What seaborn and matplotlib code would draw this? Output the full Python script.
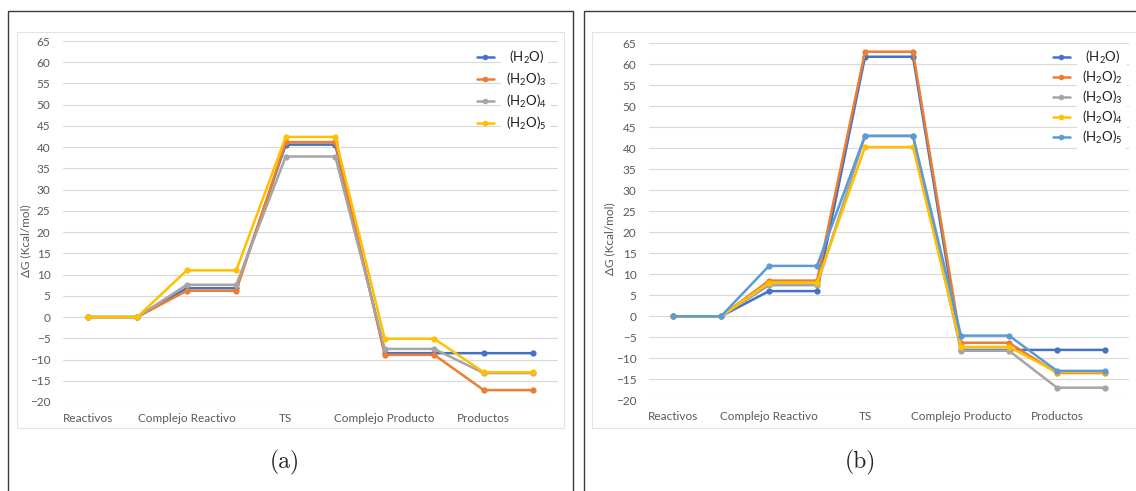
import matplotlib
matplotlib.use('Agg')
import matplotlib.pyplot as plt
from matplotlib.patches import Rectangle
from matplotlib.lines import Line2D
import seaborn as sns
import pandas as pd
import numpy as np

# Data
states = ['Reactivos', 'Complejo Reactivo', 'TS', 'Complejo Producto', 'Productos']

a_labels = [' (H$_2$O)', '(H$_2$O)$_3$', '(H$_2$O)$_4$', '(H$_2$O)$_5$']
a_h2o = [0, 0, 6.8, 6.8, 40.6, 40.6, -8.5, -8.5, -8.5, -8.5]
a_h2o3 = [0, 0, 6.2, 6.2, 41.2, 41.2, -8.9, -8.9, -17.2, -17.2]
a_h2o4 = [0, 0, 7.6, 7.6, 37.8, 37.8, -7.5, -7.5, -13.2, -13.2]
a_h2o5 = [0, 0, 11.0, 11.0, 42.4, 42.4, -5.1, -5.1, -13.0, -13.0]

b_labels = [' (H$_2$O)', '(H$_2$O)$_2$', '(H$_2$O)$_3$', '(H$_2$O)$_4$', '(H$_2$O)$_5$']
b_h2o = [0, 0, 6.0, 6.0, 61.8, 61.8, -8.0, -8.0, -8.0, -8.0]
b_h2o2 = [0, 0, 8.5, 8.5, 63.0, 63.0, -6.3, -6.3, -13.5, -13.5]
b_h2o3 = [0, 0, 7.4, 7.4, 42.9, 42.9, -8.2, -8.2, -17.0, -17.0]
b_h2o4 = [0, 0, 8.0, 8.0, 40.3, 40.3, -7.3, -7.3, -13.3, -13.3]
b_h2o5 = [0, 0, 12.0, 12.0, 43.0, 43.0, -4.6, -4.6, -13.0, -13.0]

a_colors = ['#4472C4', '#ED7D31', '#A5A5A5', '#FFC000']
b_colors = ['#4472C4', '#ED7D31', '#A5A5A5', '#FFC000', '#5B9BD5']

sns.set_style('white')
plt.rcParams['font.family'] = ['Lato', 'DejaVu Sans']
plt.rcParams['mathtext.default'] = 'regular'

W, H = 1136, 491
fig = plt.figure(figsize=(W / 100, H / 100), dpi=100)


def px_rect(x0, y0, x1, y1):
    # pixel box (top-left origin) -> figure fraction [l, b, w, h]
    return [x0 / W, 1 - y1 / H, (x1 - x0) / W, (y1 - y0) / H]


def draw_panel(rect, labels, series, colors, leg_xy, leg_space, ylab_xy, cap_xy, cap):
    ax = fig.add_axes(rect)
    rows = []
    for lab, vals in zip(labels, series):
        for i, v in enumerate(vals):
            rows.append({'pos': i, 'dG': v, 'serie': lab})
    df = pd.DataFrame(rows)
    sns.lineplot(data=df, x='pos', y='dG', hue='serie', hue_order=labels,
                 palette=colors, marker='o', markersize=4.5, markeredgewidth=0,
                 linewidth=1.8, legend=False, ax=ax)
    ax.set_xlim(-0.5, len(series[0]) - 0.5)
    ax.set_ylim(-20, 65)
    ax.set_yticks(np.arange(-20, 66, 5))
    ax.set_xticks(np.arange(0, len(series[0]), 2))
    ax.set_xticklabels(states)
    ax.tick_params(axis='both', length=0, labelsize=8.5, labelcolor='#595959')
    ax.tick_params(axis='y', pad=9)
    ax.tick_params(axis='x', pad=8)
    ax.grid(axis='y', color='#D9D9D9', linewidth=0.8)
    ax.set_axisbelow(True)
    for s in ax.spines.values():
        s.set_visible(False)
    ax.set_xlabel('')
    ax.set_ylabel('')
    fig.text(ylab_xy[0] / W, 1 - ylab_xy[1] / H, 'ΔG (Kcal/mol)', rotation=90,
             ha='center', va='center', fontsize=8.5, color='#595959')
    handles = [Line2D([], [], color=c, marker='o', markersize=4, markeredgewidth=0,
                      linewidth=1.8) for c in colors]
    leg = ax.legend(handles, labels, loc='upper left',
                    bbox_to_anchor=(leg_xy[0] / W, 1 - leg_xy[1] / H),
                    bbox_transform=fig.transFigure, frameon=False, fontsize=9.5,
                    handlelength=1.3, handletextpad=0.9, labelspacing=leg_space,
                    borderpad=0.2, borderaxespad=0)
    for t in leg.get_texts():
        t.set_color('#1a1a1a')
        t.set_bbox(dict(facecolor='white', edgecolor='none', pad=3))
    fig.text(cap_xy[0] / W, 1 - cap_xy[1] / H, cap, ha='center', va='center',
             fontsize=17, family='cmr10')
    return ax


# Panel frames (outer dark, inner light chart-area)
fig.patches.append(Rectangle((8 / W, -0.1), (573 - 8) / W, 1.1 - 11 / H, transform=fig.transFigure,
                             fill=False, edgecolor='#3a3a3a', linewidth=1.0))
fig.patches.append(Rectangle((584 / W, -0.1), 0.5, 1.1 - 11 / H, transform=fig.transFigure,
                             fill=False, edgecolor='#3a3a3a', linewidth=1.0))
fig.patches.append(Rectangle((17 / W, 1 - 428 / H), (564 - 17) / W, (428 - 32) / H,
                             transform=fig.transFigure, fill=False, edgecolor='#E3E3E3', linewidth=0.8))
fig.patches.append(Rectangle((592 / W, 1 - 428 / H), 0.5, (428 - 32) / H,
                             transform=fig.transFigure, fill=False, edgecolor='#E3E3E3', linewidth=0.8))

draw_panel(px_rect(63, 41, 558, 402), a_labels, [a_h2o, a_h2o3, a_h2o4, a_h2o5], a_colors,
           (474, 46), 0.38, (26, 241), (285, 462), '(a)')
draw_panel(px_rect(649, 43.3, 1129, 400.3), b_labels, [b_h2o, b_h2o2, b_h2o3, b_h2o4, b_h2o5],
           b_colors, (1050, 46), 0.22, (610, 239), (860, 462), '(b)')

fig.savefig('out.png', dpi=100)
